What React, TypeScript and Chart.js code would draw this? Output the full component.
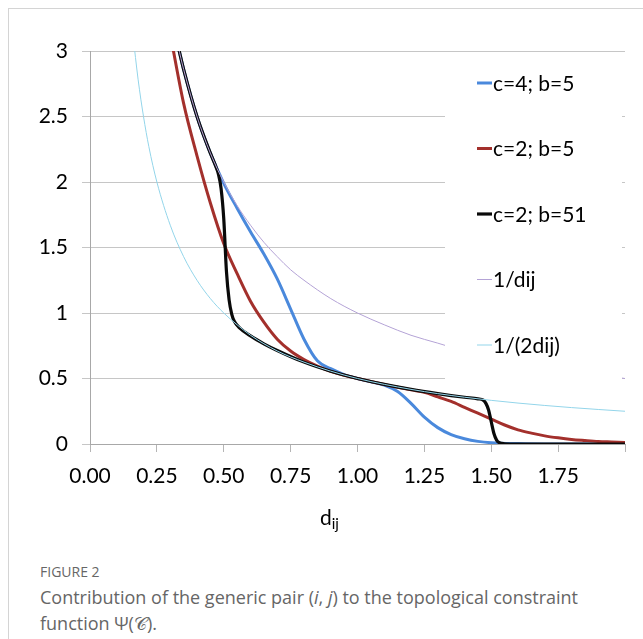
import React, { useEffect, useRef } from "react";
import { Chart, registerables } from "chart.js";
Chart.register(...registerables);

// ---- data ----
const blueX = [0.33, 0.35, 0.4, 0.45, 0.5, 0.55, 0.6, 0.65, 0.7, 0.75, 0.8, 0.85, 0.9, 0.95, 1.0, 1.05, 1.1, 1.15, 1.2, 1.25, 1.3, 1.35, 1.4, 1.45, 1.5, 1.6, 1.7, 1.8, 1.9, 2.0];
const blueY = [3.03, 2.86, 2.5, 2.22, 1.99, 1.8, 1.62, 1.45, 1.26, 1.03, 0.8, 0.635, 0.575, 0.53, 0.5, 0.475, 0.45, 0.4, 0.31, 0.205, 0.125, 0.072, 0.04, 0.02, 0.01, 0.003, 0, 0, 0, 0];

const redX = [0.3, 0.35, 0.4, 0.45, 0.5, 0.55, 0.6, 0.65, 0.7, 0.75, 0.8, 0.85, 0.9, 0.95, 1.0, 1.05, 1.1, 1.15, 1.2, 1.25, 1.3, 1.35, 1.4, 1.45, 1.5, 1.55, 1.6, 1.65, 1.7, 1.75, 1.8, 1.85, 1.9, 1.95, 2.0];
const redY = [3.13, 2.6, 2.2, 1.84, 1.53, 1.3, 1.09, 0.93, 0.8, 0.71, 0.645, 0.595, 0.555, 0.525, 0.5, 0.477, 0.455, 0.433, 0.413, 0.395, 0.36, 0.325, 0.28, 0.235, 0.19, 0.145, 0.108, 0.083, 0.062, 0.047, 0.035, 0.027, 0.02, 0.016, 0.012];

const blackX = [0.33, 0.35, 0.4, 0.45, 0.47, 0.48, 0.49, 0.5, 0.51, 0.52, 0.53, 0.54, 0.56, 0.6, 0.65, 0.7, 0.8, 0.9, 1.0, 1.1, 1.2, 1.3, 1.4, 1.45, 1.47, 1.48, 1.49, 1.5, 1.51, 1.52, 1.53, 1.55, 1.6, 1.7, 1.8, 1.9, 2.0];
const blackY = [3.03, 2.86, 2.5, 2.22, 2.12, 2.06, 1.95, 1.72, 1.32, 1.1, 0.99, 0.935, 0.885, 0.825, 0.765, 0.714, 0.625, 0.556, 0.5, 0.455, 0.417, 0.385, 0.357, 0.345, 0.335, 0.31, 0.26, 0.17, 0.08, 0.03, 0.01, 0.002, 0, 0, 0, 0, 0];

const invX = [0.33, 0.35, 0.4, 0.45, 0.5, 0.55, 0.6, 0.65, 0.7, 0.75, 0.8, 0.9, 1.0, 1.1, 1.2, 1.3, 1.4, 1.5, 1.6, 1.7, 1.8, 1.9, 2.0];
const invY = [3.03, 2.86, 2.5, 2.22, 2.0, 1.82, 1.67, 1.54, 1.43, 1.33, 1.25, 1.11, 1.0, 0.91, 0.83, 0.77, 0.71, 0.67, 0.63, 0.59, 0.56, 0.53, 0.5];

const halfX = [0.16, 0.18, 0.2, 0.22, 0.25, 0.3, 0.35, 0.4, 0.45, 0.5, 0.55, 0.6, 0.7, 0.8, 0.9, 1.0, 1.2, 1.4, 1.6, 1.8, 2.0];
const halfY = [3.13, 2.78, 2.5, 2.27, 2.0, 1.67, 1.43, 1.25, 1.11, 1.0, 0.91, 0.83, 0.71, 0.625, 0.556, 0.5, 0.417, 0.357, 0.3125, 0.278, 0.25];

const seriesNames = ["c=4; b=5", "c=2; b=5", "c=2; b=51", "1/dij", "1/(2dij)"];
const xTickValues = [0, 0.25, 0.5, 0.75, 1.0, 1.25, 1.5, 1.75, 2.0];
const xTickLabels = ["0.00", "0.25", "0.50", "0.75", "1.00", "1.25", "1.50", "1.75", ""];
const yTickValues = [0, 0.5, 1, 1.5, 2, 2.5, 3];
const yTickLabels = ["0", "0.5", "1", "1.5", "2", "2.5", "3"];

const COLORS = ["#4a89dc", "#a3302c", "#0a0a0a", "#b4a3d6", "#93d5ea"];
const WIDTHS = [3, 3, 3.2, 1, 1];
const FONT = "Lato, 'Open Sans', sans-serif";
const CAPTION_FONT = "'Open Sans', sans-serif";

const pts = (xs: number[], ys: number[]) => xs.map((x, i) => ({ x, y: ys[i] }));

const legendPlugin = {
  id: "overlayLegend",
  afterDatasetsDraw(chart: any) {
    const ctx = chart.ctx;
    ctx.save();
    ctx.fillStyle = "#ffffff";
    ctx.fillRect(445, 55, 177, 333);
    const ys = [83, 148.5, 214, 279.5, 345];
    ctx.font = `21px ${FONT}`;
    ctx.textBaseline = "middle";
    ctx.textAlign = "left";
    seriesNames.forEach((name, i) => {
      ctx.strokeStyle = COLORS[i];
      ctx.lineWidth = WIDTHS[i];
      ctx.beginPath();
      ctx.moveTo(477, ys[i]);
      ctx.lineTo(492, ys[i]);
      ctx.stroke();
      ctx.fillStyle = "#000";
      ctx.fillText(name, 493, ys[i] + 1);
    });
    ctx.restore();
  },
};

export default function App() {
  const ref = useRef<HTMLCanvasElement>(null);
  useEffect(() => {
    if (!ref.current) return;
    const data = [pts(blueX, blueY), pts(redX, redY), pts(blackX, blackY), pts(invX, invY), pts(halfX, halfY)];
    const chart = new Chart(ref.current, {
      type: "line",
      data: {
        datasets: data.map((d, i) => ({
          label: seriesNames[i],
          data: d,
          borderColor: COLORS[i],
          backgroundColor: COLORS[i],
          borderWidth: WIDTHS[i],
          pointRadius: 0,
          fill: false,
          cubicInterpolationMode: "monotone" as const,
          order: 5 - i,
        })),
      },
      options: {
        responsive: false,
        animation: false,
        devicePixelRatio: 1,
        layout: { padding: { left: 0, top: 51, right: 18, bottom: 0 } },
        plugins: { legend: { display: false }, tooltip: { enabled: false }, title: { display: false } },
        scales: {
          x: {
            type: "linear",
            min: 0,
            max: 2,
            afterFit: (s: any) => { s.height = 101; },
            afterBuildTicks: (s: any) => { s.ticks = xTickValues.map((v) => ({ value: v })); },
            ticks: {
              autoSkip: false,
              maxRotation: 0,
              padding: 12,
              color: "#000",
              font: { family: FONT, size: 21 },
              callback: (_v: any, idx: number) => xTickLabels[idx],
            },
            grid: { drawOnChartArea: false, drawTicks: true, tickLength: 8, color: "#b5b5b5" },
            border: { color: "#a8a8a8" },
          },
          y: {
            type: "linear",
            min: 0,
            max: 3,
            afterFit: (s: any) => { s.width = 90; },
            afterBuildTicks: (s: any) => { s.ticks = yTickValues.map((v) => ({ value: v })); },
            ticks: {
              padding: 14,
              color: "#000",
              font: { family: FONT, size: 21 },
              callback: (_v: any, idx: number) => yTickLabels[idx],
            },
            grid: { drawTicks: true, tickLength: 8, color: "#c6c6c6" },
            border: { color: "#a8a8a8" },
          },
        },
      },
      plugins: [legendPlugin],
    });
    return () => chart.destroy();
  }, []);

  return (
    <div style={{ position: "absolute", left: 0, top: 0, width: 643, height: 639, overflow: "hidden", background: "#fff", fontFamily: FONT }}>
      <div style={{ position: "absolute", left: 8, top: 8, width: 1000, height: 1000, borderTop: "1px solid #d4d4d4", borderLeft: "1px solid #d4d4d4" }} />
      <canvas ref={ref} width={643} height={545} style={{ position: "absolute", left: 0, top: 0, width: 643, height: 545 }} />
      <div style={{ position: "absolute", left: 320, top: 505, fontSize: 21, lineHeight: "24px", color: "#000", whiteSpace: "nowrap" }}>
        d<span style={{ fontSize: 15, position: "relative", top: 4 }}>ij</span>
      </div>
      <div style={{ position: "absolute", left: 40, top: 562, fontSize: 14, lineHeight: "20px", color: "#666", whiteSpace: "nowrap", fontFamily: CAPTION_FONT }}>FIGURE 2</div>
      <div style={{ position: "absolute", left: 40, top: 584, fontSize: 18, lineHeight: "26px", color: "#666", whiteSpace: "nowrap", fontFamily: CAPTION_FONT }}>
        <div>Contribution of the generic pair (<i>i</i>, <i>j</i>) to the topological constraint</div>
        <div>function Ψ(𝒞).</div>
      </div>
    </div>
  );
}
